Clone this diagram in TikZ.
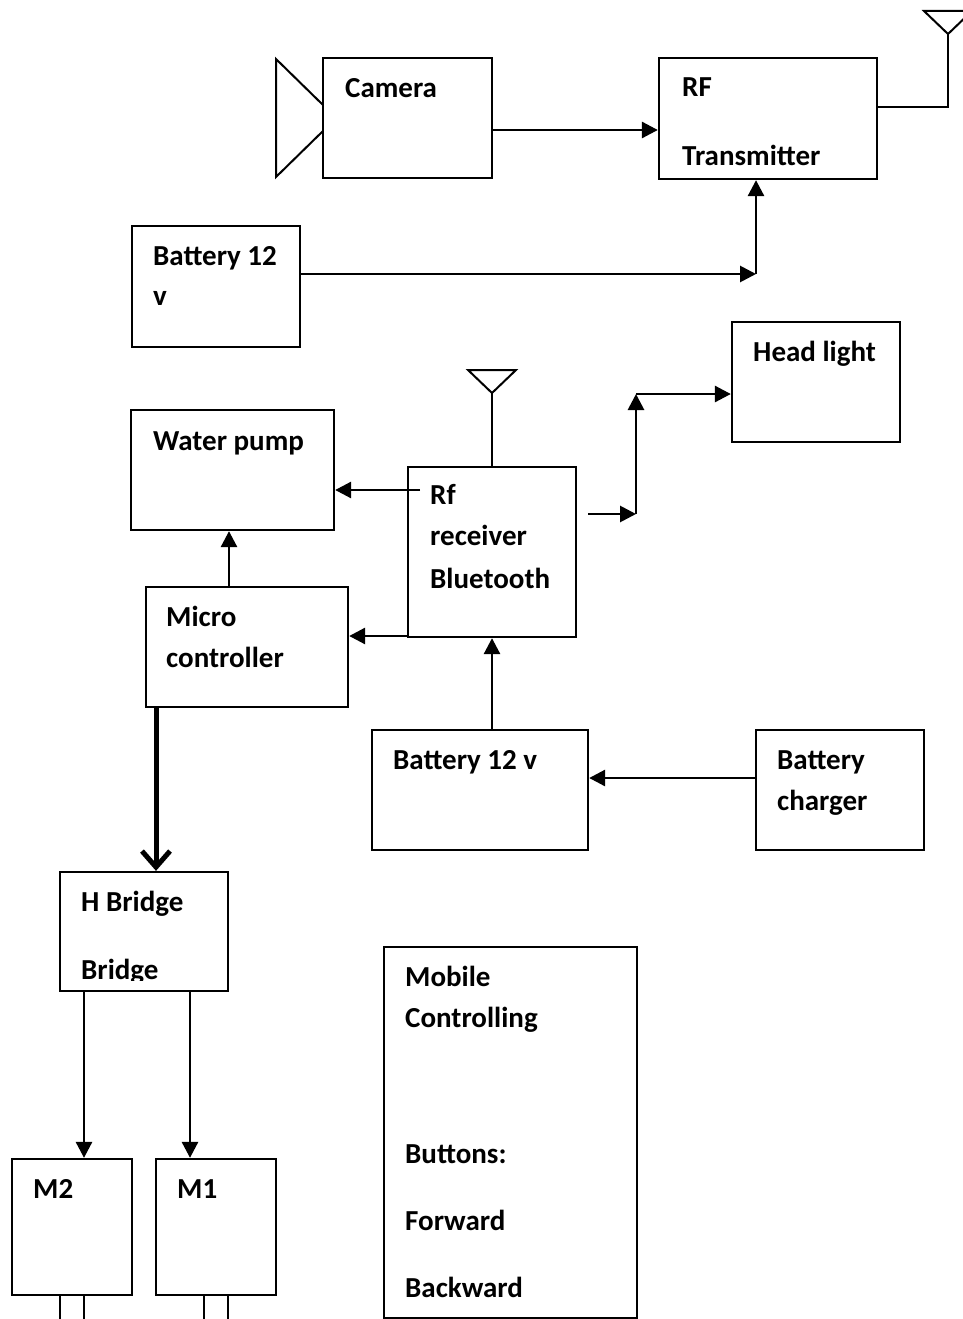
\documentclass[tikz,border=0pt]{standalone}
\usepackage{fontspec}
\setmainfont{Carlito}
\usetikzlibrary{arrows.meta}

\begin{document}
\begin{tikzpicture}[x=1pt, y=-1pt,
  blk/.style={draw, line width=2.3pt, inner sep=0pt},
  lbl/.style={anchor=base west, inner sep=0pt, font=\bfseries\fontsize{29}{35}\selectfont},
  arr/.style={line width=2.8pt, -{Triangle[length=16pt,width=16pt]}},
  thk/.style={line width=5pt, -{Straight Barb[length=16pt,width=28pt]}},
  wire/.style={line width=2pt}]
  \useasboundingbox (0,0) rectangle (963,1319);

  % ---- blocks ----
  \node[blk, minimum width=169pt, minimum height=120pt] (cam)  at (407.5,118)  {};
  \node[blk, minimum width=218pt, minimum height=121pt] (rft)  at (768,118.5)  {};
  \node[blk, minimum width=168pt, minimum height=121pt] (bat1) at (216,286.5)  {};
  \node[blk, minimum width=168pt, minimum height=120pt] (head) at (816,382)    {};
  \node[blk, minimum width=203pt, minimum height=120pt] (pump) at (232.5,470)  {};
  \node[blk, minimum width=168pt, minimum height=170pt] (rfr)  at (492,552)    {};
  \node[blk, minimum width=202pt, minimum height=120pt] (mcu)  at (247,647)    {};
  \node[blk, minimum width=216pt, minimum height=120pt] (bat2) at (480,790)    {};
  \node[blk, minimum width=168pt, minimum height=120pt] (chg)  at (840,790)    {};
  \node[blk, minimum width=168pt, minimum height=119pt] (hbr)  at (144,931.5)  {};
  \node[blk, minimum width=120pt, minimum height=136pt] (m2)   at (72,1227)    {};
  \node[blk, minimum width=120pt, minimum height=136pt] (m1)   at (216,1227)   {};
  \node[blk, minimum width=253pt, minimum height=371pt] (mob)  at (510.5,1132.5) {};

  % ---- labels ----
  \foreach \n/\x/\y/\t in {a/345/98/Camera, b/682/97/RF, c/682/165/Transmitter,
      d/153/265/Battery 12, e/153/305/v, f/753/361/Head light, g/153/450/Water pump,
      h/430/504/Rf, i/430/545/receiver, j/430/588/Bluetooth, k/166/626/Micro,
      l/166/667/controller, m/393/769/Battery 12 v, n/777/769/Battery, o/777/810/charger,
      p/81/911/H Bridge, q/33/1198/M2, r/177/1198/M1, s/405/986/Mobile,
      t/405/1027/Controlling, u/405/1163/Buttons:, v/405/1230/Forward, w/405/1297/Backward} {
    \node[lbl] (t\n) at (\x,\y) {\t};
  }
  \begin{scope}
    \clip (60,930) rectangle (228,980);
    \node[lbl] (tx) at (81,979) {Bridge};
  \end{scope}

  % ---- camera lens and antennas ----
  \draw[wire] (323,105) -- (276,59) -- (276,177) -- (323,131);
  \coordinate (ant1) at (948,34);
  \draw[wire] (rft.east |- 0,107) -- (ant1 |- 0,107) -- (ant1);
  \draw[wire] (924,11) -- (ant1) -- (972,11) -- cycle;
  \coordinate (ant2) at (492,393);
  \draw[wire] (rfr.north) -- (ant2);
  \draw[wire] (468,370) -- (ant2) -- (516,370) -- cycle;

  % ---- connectors ----
  \coordinate (p0) at (492,130);
  \draw[arr] (cam.east |- p0) -- (rft.west |- p0);
  \coordinate (k1) at (756,274);
  \draw[arr] (bat1.east |- k1) -- (k1);
  \draw[arr] (k1) -- (k1 |- rft.south);

  \coordinate (p1) at (420,490);
  \draw[arr] (p1) -- (pump.east |- p1);
  \coordinate (p2) at (408,636);
  \draw[arr] (p2) -- (mcu.east |- p2);
  \coordinate (p3) at (588,514);
  \coordinate (k2) at (636,514);
  \coordinate (k3) at (636,394);
  \draw[arr] (p3) -- (k2);
  \draw[arr] (k2) -- (k3);
  \draw[arr] (k3) -- (head.west |- k3);

  \coordinate (p4) at (229,587);
  \draw[arr] (p4) -- (p4 |- pump.south);
  \coordinate (p5) at (156,707);
  \draw[thk] (p5) -- (p5 |- hbr.north);
  \coordinate (q2) at (84,0);
  \coordinate (q1) at (190,0);
  \draw[arr] (hbr.south -| q2) -- (m2.north -| q2);
  \draw[arr] (hbr.south -| q1) -- (m1.north -| q1);

  \draw[arr] (rfr.south |- bat2.north) -- (rfr.south);
  \coordinate (p6) at (756,778);
  \draw[arr] (chg.west |- p6) -- (bat2.east |- p6);

  % ---- motor shafts ----
  \draw[line width=2pt] (60,1330) -- (60,1295) -- (84,1295) -- (84,1330);
  \draw[line width=2pt] (204,1330) -- (204,1295) -- (228,1295) -- (228,1330);
\end{tikzpicture}
\end{document}
